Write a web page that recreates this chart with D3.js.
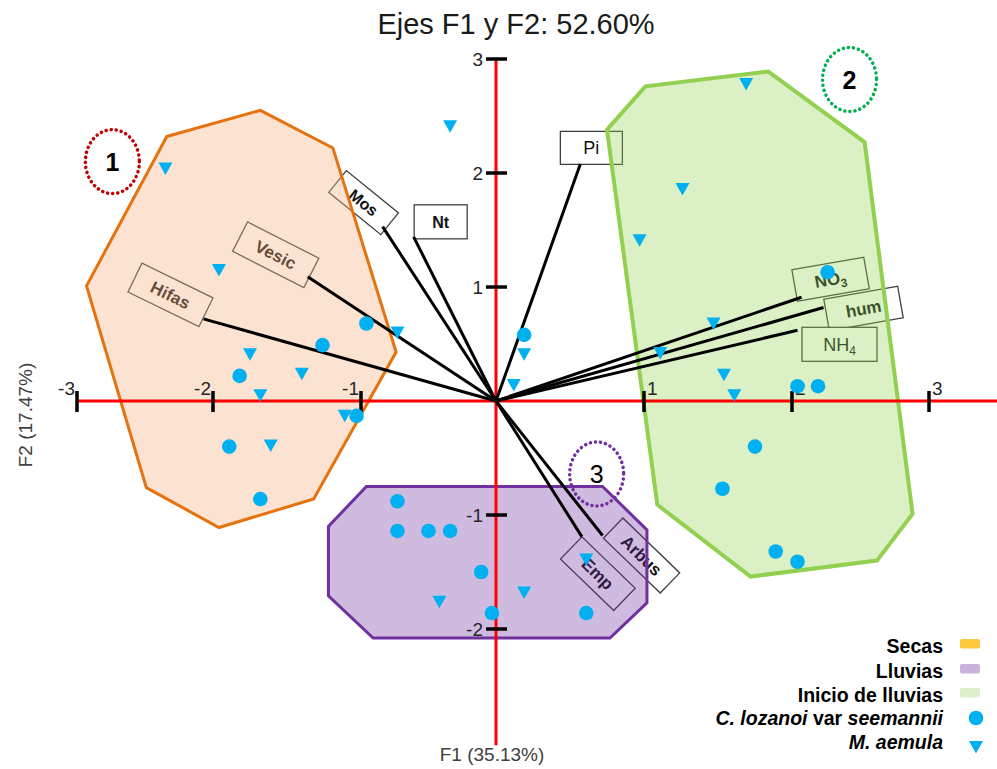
<!DOCTYPE html>
<html>
<head>
<meta charset="utf-8">
<script src="https://cdn.jsdelivr.net/npm/d3@7"></script>
<style>
  body { margin: 0; background: #fff; }
  svg { display: block; font-family: "Liberation Sans", Arial, sans-serif; }
</style>
</head>
<body>
<div id="chart"></div>
<script>
// ---- data (F1, F2 scores) ----
var lozanoiF1 = [-0.96, -1.26, -1.82, -1.03, -1.89, -1.68, 0.19, 2.26, 2.04, 2.19, 1.75, 1.53, 1.89, 2.04,
                 -0.73, -0.73, -0.50, -0.34, -0.11, -0.03, 0.61];
var lozanoiF2 = [0.68, 0.49, 0.22, -0.13, -0.40, -0.86, 0.58, 1.13, 0.13, 0.13, -0.40, -0.77, -1.32, -1.41,
                 -0.88, -1.14, -1.14, -1.14, -1.50, -1.86, -1.86];

var aemulaF1 = [-2.35, -0.34, -1.96, -0.73, -1.75, -1.40, -1.68, -1.61, -1.11, 1.69, 1.26, 0.97, 1.47, 1.11,
                1.54, 1.61, 0.19, 0.12, -0.42, 0.19, 0.61];
var aemulaF2 = [2.04, 2.41, 1.15, 0.60, 0.41, 0.24, 0.05, -0.39, -0.13, 2.78, 1.86, 1.41, 0.68, 0.42,
                0.23, 0.05, 0.41, 0.14, -1.76, -1.68, -1.39];

var vectorNames = ['Hifas', 'Vesic', 'Mos', 'Nt', 'Pi', 'NO3', 'hum', 'NH4', 'Arbus', 'Emp'];
var vectorF1 = [-2.07, -1.36, -0.84, -0.61, 0.57, 2.07, 2.23, 2.04, 0.72, 0.58];
var vectorF2 = [0.72, 1.09, 1.53, 1.44, 2.08, 0.91, 0.82, 0.62, -1.18, -1.19];

var hullSecas = [[-2.34, 2.32], [-1.68, 2.55], [-1.19, 2.22], [-0.74, 0.43], [-1.32, -0.86], [-1.96, -1.11], [-2.49, -0.76], [-2.93, 1.01]];
var hullInicio = [[0.75, 2.38], [1.01, 2.76], [1.84, 2.89], [2.53, 2.27], [2.88, -0.99], [2.62, -1.40], [1.72, -1.54], [1.09, -0.91]];
var hullLluvias = [[-0.96, -0.75], [0.72, -0.75], [1.02, -1.13], [1.02, -1.77], [0.77, -2.08], [-0.91, -2.08], [-1.22, -1.71], [-1.22, -1.10]];

var groupTags = ['1', '2', '3'];
var groupF1 = [-2.74, 2.42, 0.68];
var groupF2 = [2.10, 2.82, -0.64];

var xTicks = [-3, -2, -1, 1, 2, 3];
var yTicks = [3, 2, 1, -1, -2];

var legendLabels = ['Secas', 'Lluvias', 'Inicio de lluvias', 'C. lozanoi var seemannii', 'M. aemula'];

// ---- layout ----
var width = 997, height = 769;
var CYAN = '#00b0f0';

var svg = d3.select('#chart').append('svg')
    .attr('width', width)
    .attr('height', height);

var x = d3.scaleLinear()
    .domain([-3, -2, -1, 0, 1, 2, 3])
    .range([77, 213, 361, 496, 644, 792, 929]);
var y = d3.scaleLinear()
    .domain([-3, 3])
    .range([743, 59]);

// label boxes: offset from arrow tip, size, angle
var boxLayout = {
    Hifas: { dx: -33, dy: -24, w: 79, h: 32, a: 26, bold: true, fs: 17 },
    Vesic: { dx: -32, dy: -22, w: 80, h: 33, a: 27, bold: true, fs: 17 },
    Mos:   { dx: -19, dy: -24, w: 67, h: 28, a: 39, bold: true, fs: 16 },
    Nt:    { dx: 27, dy: -15, w: 53, h: 34, a: 0, bold: true, fs: 16 },
    Pi:    { dx: 11, dy: -16, w: 62, h: 33, a: 0, bold: false, fs: 18 },
    NO3:   { dx: 29, dy: -18, w: 73, h: 32, a: -10, bold: true, fs: 17, sub: '3' },
    hum:   { dx: 40, dy: 1, w: 75, h: 32, a: -10, bold: true, fs: 17 },
    NH4:   { dx: 42, dy: 14, w: 75, h: 34, a: 0, bold: false, fs: 18, sub: '4' },
    Arbus: { dx: 39, dy: 20, w: 79, h: 28, a: 44, bold: true, fs: 17 },
    Emp:   { dx: 16, dy: 37, w: 74, h: 31, a: 44, bold: true, fs: 17 }
};

var vectors = vectorNames.map(function (n, i) {
    return { name: n, f1: vectorF1[i], f2: vectorF2[i] };
});

// label boxes (below the hulls so the fill tints them)
var boxes = svg.append('g').selectAll('g')
    .data(vectors)
    .enter().append('g')
    .attr('transform', function (d) {
        var l = boxLayout[d.name];
        return 'translate(' + (x(d.f1) + l.dx) + ',' + (y(d.f2) + l.dy) + ') rotate(' + l.a + ')';
    });
boxes.append('rect')
    .attr('x', function (d) { return -boxLayout[d.name].w / 2; })
    .attr('y', function (d) { return -boxLayout[d.name].h / 2; })
    .attr('width', function (d) { return boxLayout[d.name].w; })
    .attr('height', function (d) { return boxLayout[d.name].h; })
    .attr('fill', '#fff')
    .attr('stroke', '#404040')
    .attr('stroke-width', 1.3);
boxes.append('text')
    .attr('text-anchor', 'middle')
    .attr('dy', '0.36em')
    .attr('font-size', function (d) { return boxLayout[d.name].fs; })
    .attr('font-weight', function (d) { return boxLayout[d.name].bold ? 'bold' : 'normal'; })
    .attr('fill', '#111')
    .each(function (d) {
        var t = d3.select(this), l = boxLayout[d.name];
        if (l.sub) {
            t.append('tspan').text(d.name.slice(0, -1));
            t.append('tspan').attr('font-size', 12).attr('dy', 4).text(l.sub);
        } else {
            t.text(d.name);
        }
    });

// hulls
var hulls = [
    { pts: hullSecas, stroke: '#e5720f', fill: '#f4b183', op: 0.37, sw: 3 },
    { pts: hullInicio, stroke: '#92d050', fill: '#92d050', op: 0.33, sw: 4 },
    { pts: hullLluvias, stroke: '#7030a0', fill: '#7030a0', op: 0.33, sw: 3 }
];
var line = d3.line()
    .x(function (p) { return x(p[0]); })
    .y(function (p) { return y(p[1]); })
    .curve(d3.curveLinearClosed);
svg.append('g').selectAll('path')
    .data(hulls)
    .enter().append('path')
    .attr('d', function (d) { return line(d.pts); })
    .attr('fill', function (d) { return d.fill; })
    .attr('fill-opacity', function (d) { return d.op; })
    .attr('stroke', function (d) { return d.stroke; })
    .attr('stroke-width', function (d) { return d.sw; })
    .attr('stroke-linejoin', 'miter');

// axes
var axes = svg.append('g');
axes.append('line')
    .attr('x1', x(-3)).attr('x2', width)
    .attr('y1', y(0)).attr('y2', y(0))
    .attr('stroke', '#ff0000').attr('stroke-width', 3);
axes.append('line')
    .attr('x1', x(0)).attr('x2', x(0))
    .attr('y1', y(3)).attr('y2', y(-3.02))
    .attr('stroke', '#ff0000').attr('stroke-width', 3);

axes.selectAll('.xt')
    .data(xTicks)
    .enter().append('line')
    .attr('x1', function (d) { return x(d); })
    .attr('x2', function (d) { return x(d); })
    .attr('y1', y(0) - 10).attr('y2', y(0) + 11)
    .attr('stroke', '#000').attr('stroke-width', 3.5);
axes.selectAll('.xl')
    .data(xTicks)
    .enter().append('text')
    .attr('x', function (d) { return d < 0 ? x(d) - 2 : x(d) + 3; })
    .attr('y', y(0) - 6)
    .attr('text-anchor', function (d) { return d < 0 ? 'end' : 'start'; })
    .attr('font-size', 19)
    .attr('fill', '#262626')
    .text(function (d) { return d; });

axes.selectAll('.yt')
    .data(yTicks)
    .enter().append('line')
    .attr('x1', x(0) - 10).attr('x2', x(0) + 11)
    .attr('y1', function (d) { return y(d); })
    .attr('y2', function (d) { return y(d); })
    .attr('stroke', '#000').attr('stroke-width', 3.5);
axes.selectAll('.yl')
    .data(yTicks)
    .enter().append('text')
    .attr('x', x(0) - 13)
    .attr('y', function (d) { return y(d); })
    .attr('dy', '0.35em')
    .attr('text-anchor', 'end')
    .attr('font-size', 19)
    .attr('fill', '#262626')
    .text(function (d) { return d; });

// loading vectors
svg.append('g').selectAll('line')
    .data(vectors)
    .enter().append('line')
    .attr('x1', x(0)).attr('y1', y(0))
    .attr('x2', function (d) { return x(d.f1); })
    .attr('y2', function (d) { return y(d.f2); })
    .attr('stroke', '#000')
    .attr('stroke-width', 3);

// points
var tri = 'M-7,-6L7,-6L0,6.5Z';
svg.append('g').selectAll('circle')
    .data(d3.range(lozanoiF1.length))
    .enter().append('circle')
    .attr('cx', function (i) { return x(lozanoiF1[i]); })
    .attr('cy', function (i) { return y(lozanoiF2[i]); })
    .attr('r', 7.3)
    .attr('fill', CYAN);
svg.append('g').selectAll('path')
    .data(d3.range(aemulaF1.length))
    .enter().append('path')
    .attr('d', tri)
    .attr('transform', function (i) { return 'translate(' + x(aemulaF1[i]) + ',' + y(aemulaF2[i]) + ')'; })
    .attr('fill', CYAN);

// group tags
var tagColors = ['#c00000', '#00b050', '#7030a0'];
var tags = svg.append('g').selectAll('g')
    .data(groupTags)
    .enter().append('g')
    .attr('transform', function (d, i) { return 'translate(' + x(groupF1[i]) + ',' + y(groupF2[i]) + ')'; });
tags.append('ellipse')
    .attr('rx', 27).attr('ry', 32)
    .attr('fill', 'none')
    .attr('stroke', function (d, i) { return tagColors[i]; })
    .attr('stroke-width', 3.5)
    .attr('stroke-linecap', 'round')
    .attr('stroke-dasharray', '0.1 5');
tags.append('text')
    .attr('text-anchor', 'middle')
    .attr('dy', '0.36em')
    .attr('font-size', 25)
    .attr('font-weight', function (d) { return d === '3' ? 'normal' : 'bold'; })
    .attr('fill', '#000')
    .text(function (d) { return d; });

// title and axis titles
svg.append('text')
    .attr('x', 516).attr('y', 34)
    .attr('text-anchor', 'middle')
    .attr('font-size', 29)
    .attr('fill', '#1a1a1a')
    .text('Ejes F1 y F2: 52.60%');
svg.append('text')
    .attr('x', 492).attr('y', 761)
    .attr('text-anchor', 'middle')
    .attr('font-size', 19)
    .attr('fill', '#404040')
    .text('F1 (35.13%)');
svg.append('text')
    .attr('transform', 'translate(32,415) rotate(-90)')
    .attr('text-anchor', 'middle')
    .attr('font-size', 19)
    .attr('fill', '#404040')
    .text('F2 (17.47%)');

// legend
var legY = [653, 678, 702, 725, 749];
var legend = svg.append('g');
legend.selectAll('text')
    .data(legendLabels)
    .enter().append('text')
    .attr('x', 943)
    .attr('y', function (d, i) { return legY[i]; })
    .attr('text-anchor', 'end')
    .attr('font-size', 19.5)
    .attr('font-weight', 'bold')
    .attr('fill', '#000')
    .each(function (d, i) {
        var t = d3.select(this);
        if (i === 3) {
            t.append('tspan').attr('font-style', 'italic').text('C. lozanoi');
            t.append('tspan').text(' var ');
            t.append('tspan').attr('font-style', 'italic').text('seemannii');
        } else if (i === 4) {
            t.attr('font-style', 'italic').text(d);
        } else {
            t.text(d);
        }
    });
var swatchColors = ['#ffc83d', '#c9b2dc', '#dcefca'];
legend.selectAll('rect')
    .data(swatchColors)
    .enter().append('rect')
    .attr('x', 960)
    .attr('y', function (d, i) { return legY[i] - 14; })
    .attr('width', 20).attr('height', 9.5)
    .attr('rx', 2)
    .attr('fill', function (d) { return d; });
legend.append('circle')
    .attr('cx', 976).attr('cy', legY[3] - 7)
    .attr('r', 7.3)
    .attr('fill', CYAN);
legend.append('path')
    .attr('d', tri)
    .attr('transform', 'translate(976,' + (legY[4] - 2) + ')')
    .attr('fill', CYAN);
</script>
</body>
</html>
